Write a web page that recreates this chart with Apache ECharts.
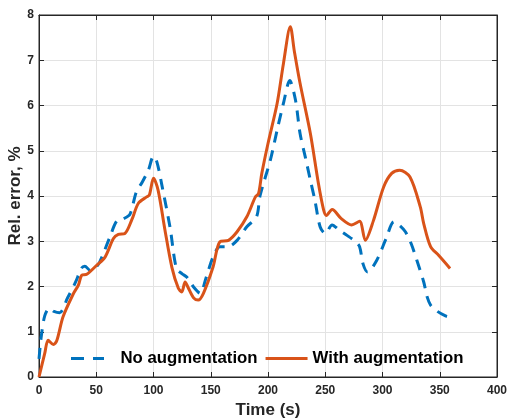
<!DOCTYPE html>
<html>
<head>
<meta charset="utf-8">
<script src="https://cdn.jsdelivr.net/npm/echarts@6/dist/echarts.min.js"></script>
<style>html,body{margin:0;padding:0;background:#fff;}#c{width:509px;height:420px;}</style>
</head>
<body>
<div id="c"></div>
<script>
var xTicks = [0, 50, 100, 150, 200, 250, 300, 350, 400];
var yTicks = [0, 1, 2, 3, 4, 5, 6, 7, 8];

var tNoAug = [0, 2, 5, 9, 13, 18, 25, 32, 37, 40, 44.6, 48, 53, 62, 68, 74, 79.5, 85, 90, 95.5, 100, 103, 107, 114.5, 120, 125, 129, 135, 140.7, 146, 152, 158, 165, 173, 181.5, 190, 193, 202, 208, 213.5, 219, 224, 228, 232.5, 237, 241, 245.5, 250, 256, 262, 269, 276, 280, 283, 287, 295, 303, 310, 315, 320, 325, 330, 336, 339, 342, 348, 355, 359];
var vNoAug = [0.4, 0.9, 1.35, 1.52, 1.45, 1.42, 1.75, 2.1, 2.4, 2.45, 2.36, 2.38, 2.54, 3.1, 3.45, 3.5, 3.6, 4.09, 4.3, 4.57, 4.88, 4.75, 4.28, 3.3, 2.4, 2.28, 2.21, 1.99, 1.85, 2.2, 2.65, 2.88, 2.88, 3.02, 3.32, 3.54, 4.0, 4.79, 5.46, 6.05, 6.55, 6.12, 5.38, 4.87, 4.35, 3.9, 3.32, 3.17, 3.36, 3.25, 3.13, 3.0, 2.88, 2.5, 2.32, 2.58, 3.05, 3.43, 3.35, 3.21, 2.95, 2.58, 2.1, 1.77, 1.59, 1.45, 1.35, 1.32];

var tAug = [0, 5, 8, 12.5, 15.5, 21, 30, 34.4, 37.3, 41.7, 50.4, 57.7, 65, 69.3, 75, 81, 86.8, 94, 96.4, 100, 104, 110, 116, 121.7, 124.7, 127.6, 130, 135, 139, 143.6, 152, 158, 165.5, 173, 181.5, 189, 191.7, 194.6, 200, 208, 213.5, 219.5, 223, 228, 237, 244, 248.5, 251, 256, 264, 273, 280, 285, 292, 301, 308, 315, 324, 333, 336, 342, 349, 359];
var vAug = [0, 0.52, 0.81, 0.72, 0.8, 1.33, 1.84, 2.03, 2.25, 2.27, 2.47, 2.65, 3.06, 3.15, 3.17, 3.47, 3.84, 3.98, 4.02, 4.39, 4.13, 3.25, 2.43, 1.96, 1.88, 2.1, 1.99, 1.75, 1.70, 1.85, 2.43, 2.99, 3.02, 3.21, 3.54, 3.98, 4.05, 4.5, 5.16, 6.05, 6.93, 7.74, 7.2, 6.49, 5.38, 4.28, 3.7, 3.57, 3.70, 3.5, 3.36, 3.44, 3.02, 3.45, 4.2, 4.5, 4.57, 4.42, 3.76, 3.39, 2.88, 2.69, 2.40];

function pairs(t, v) { return t.map(function (x, i) { return [x, v[i]]; }); }

var font = '"Liberation Sans", Arial, Helvetica, sans-serif';
var axisCol = '#262626';
var blue = '#0072BD', orange = '#D95319';
var chart = echarts.init(document.getElementById('c'));
chart.setOption({
  backgroundColor: '#fff',
  animation: false,
  grid: { left: 39, right: 12, top: 15, bottom: 43, containLabel: false, outerBoundsMode: 'none',
    show: true, borderColor: axisCol, borderWidth: 1, backgroundColor: 'transparent' },
  legend: {
    left: 66, bottom: 48, itemWidth: 42, itemHeight: 3, itemGap: 8,
    textStyle: { fontFamily: font, fontSize: 16.8, fontWeight: 'bold', color: '#000' },
    data: [
      { name: 'No augmentation', icon: 'path://M7,0h13v3h-13z M29,0h11v3h-11z', itemStyle: { color: blue },
        textStyle: { padding: [0, 0, 0, 7] } },
      { name: 'With augmentation', icon: 'path://M0,0h42v3h-42z', itemStyle: { color: orange },
        textStyle: { padding: [0, 0, 0, 0] } }
    ]
  },
  xAxis: [{
    type: 'value', min: 0, max: 400, interval: 50, position: 'bottom',
    name: 'Time (s)', nameLocation: 'middle', nameGap: 24,
    nameTextStyle: { fontFamily: font, fontSize: 17, fontWeight: 'bold', color: axisCol },
    axisLine: { show: true, onZero: false, lineStyle: { color: axisCol, width: 1 } },
    axisTick: { show: true, inside: true, length: 5, lineStyle: { color: axisCol } },
    axisLabel: { fontFamily: font, fontSize: 12, fontWeight: 'bold', color: axisCol, margin: 8,
      formatter: function (v) { return xTicks.indexOf(v) >= 0 ? String(v) : ''; } },
    splitLine: { show: true, lineStyle: { color: '#e3e3e3', width: 1 } }
  }, {
    type: 'value', min: 0, max: 400, interval: 50, position: 'top',
    axisLine: { show: true, onZero: false, lineStyle: { color: axisCol, width: 1 } },
    axisTick: { show: true, inside: true, length: 5, lineStyle: { color: axisCol } },
    axisLabel: { show: false }, splitLine: { show: false }
  }],
  yAxis: [{
    type: 'value', min: 0, max: 8, interval: 1, position: 'left',
    name: 'Rel. error, %', nameLocation: 'middle', nameGap: 15, nameMoveOverlap: false,
    nameTextStyle: { fontFamily: font, fontSize: 17, fontWeight: 'bold', color: axisCol },
    axisLine: { show: true, onZero: false, lineStyle: { color: axisCol, width: 1 } },
    axisTick: { show: true, inside: true, length: 5, lineStyle: { color: axisCol } },
    axisLabel: { fontFamily: font, fontSize: 12, fontWeight: 'bold', color: axisCol, margin: 5,
      formatter: function (v) { return yTicks.indexOf(v) >= 0 ? String(v) : ''; } },
    splitLine: { show: true, lineStyle: { color: '#e3e3e3', width: 1 } }
  }, {
    type: 'value', min: 0, max: 8, interval: 1, position: 'right',
    axisLine: { show: true, onZero: false, lineStyle: { color: axisCol, width: 1 } },
    axisTick: { show: true, inside: true, length: 5, lineStyle: { color: axisCol } },
    axisLabel: { show: false }, splitLine: { show: false }
  }],
  series: [{
    name: 'No augmentation', type: 'line', xAxisIndex: 0, yAxisIndex: 0,
    data: pairs(tNoAug, vNoAug), showSymbol: false, symbol: 'none', smooth: 0.3,
    itemStyle: { color: blue },
    lineStyle: { color: blue, width: 3, type: [11, 8] }
  }, {
    name: 'With augmentation', type: 'line', xAxisIndex: 0, yAxisIndex: 0,
    data: pairs(tAug, vAug), showSymbol: false, symbol: 'none', smooth: 0.3,
    itemStyle: { color: orange },
    lineStyle: { color: orange, width: 3 }
  }, {
    name: '_frame', type: 'line', xAxisIndex: 1, yAxisIndex: 1, data: [], silent: true
  }]
});
</script>
</body>
</html>
